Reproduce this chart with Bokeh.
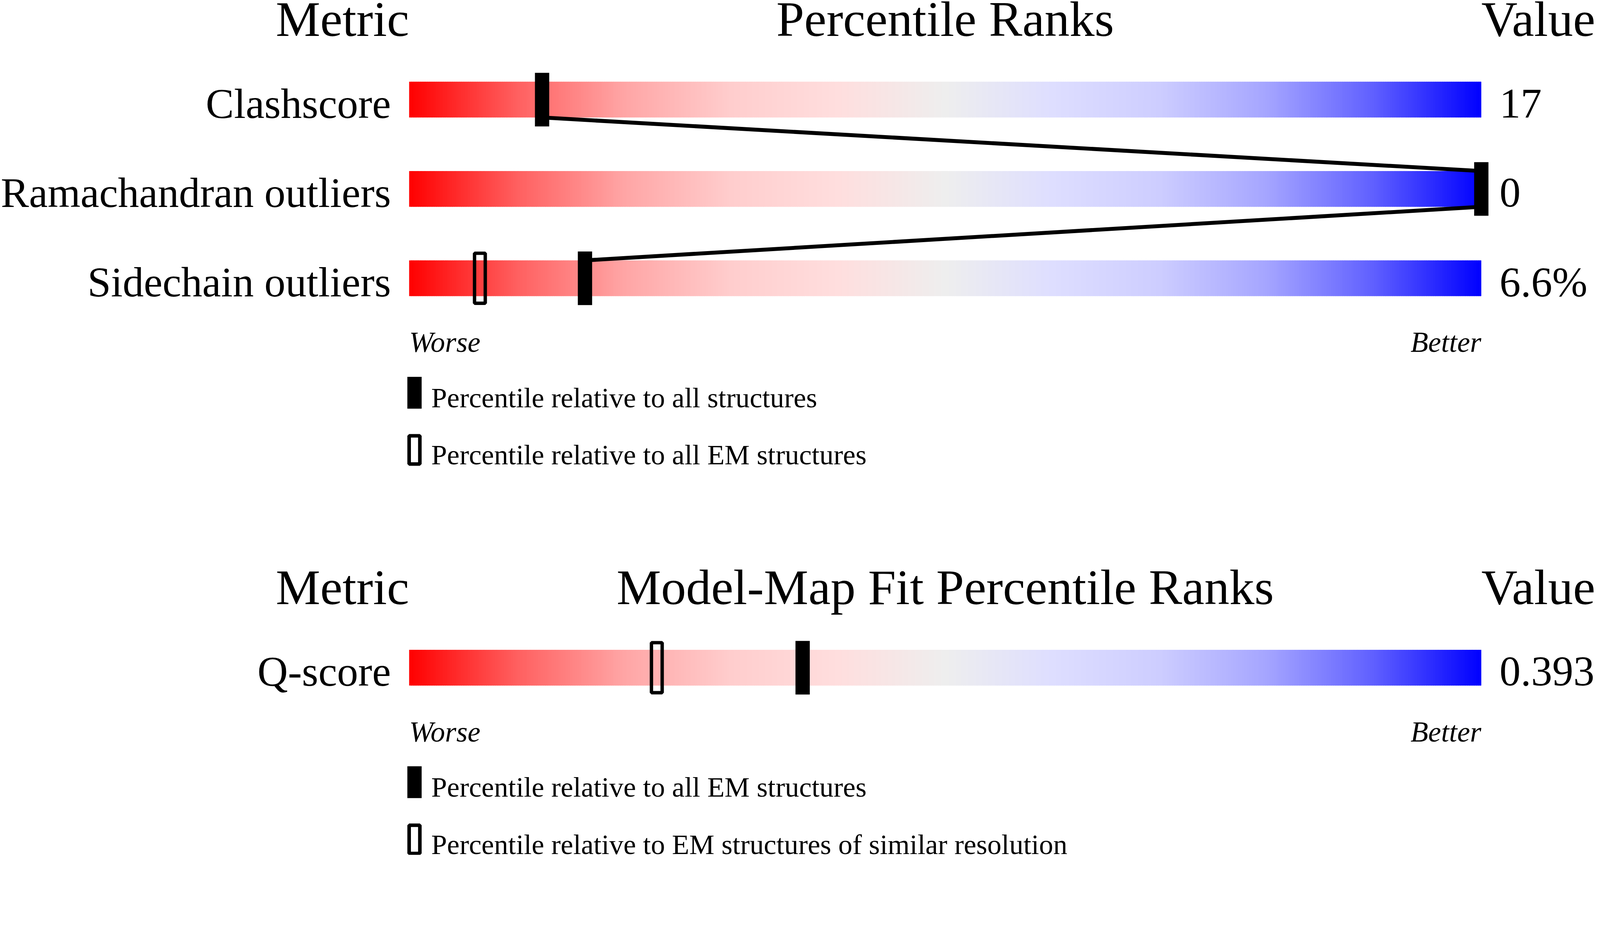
import numpy as np
from bokeh.plotting import figure
from bokeh.models import Range1d
from bokeh.embed import file_html
from bokeh.resources import INLINE
from bokeh.core.properties import value

# ---------------- data ----------------
headers_top = ["Metric", "Percentile Ranks", "Value"]
metrics_top = ["Clashscore", "Ramachandran outliers", "Sidechain outliers"]
values_top = ["17", "0", "6.6%"]
pct_all_top = [12.4, 100.0, 16.4]          # percentile relative to all structures
pct_em_top = [None, None, 6.6]             # percentile relative to all EM structures
legend_top = ["Percentile relative to all structures",
              "Percentile relative to all EM structures"]

headers_bottom = ["Metric", "Model-Map Fit Percentile Ranks", "Value"]
metrics_bottom = ["Q-score"]
values_bottom = ["0.393"]
pct_all_bottom = [36.7]                    # relative to all EM structures
pct_sim_bottom = [23.1]                    # relative to EM structures of similar resolution
legend_bottom = ["Percentile relative to all EM structures",
                 "Percentile relative to EM structures of similar resolution"]

scale_labels = ["Worse", "Better"]

grad_stops = [0, 10, 20, 30, 40, 50, 60, 70, 80, 90, 100]
grad_r = [255, 255, 255, 255, 255, 238, 222, 205, 165, 95, 0]
grad_g = [0, 95, 165, 205, 222, 238, 222, 205, 165, 95, 0]
grad_b = [0, 95, 165, 205, 222, 238, 255, 255, 255, 255, 255]

# ---------------- layout ----------------
S = 1 / 1.093           # screen px per reference px
M = 8
W = int(4485 * S) - 2 * M
H = int(2402 * S) - M
BAR_LEFT = 1153.0       # reference px
BAR_SPAN = 3000.0
xs = (M / S - BAR_LEFT) / BAR_SPAN * 100
xe = ((M + W) / S - BAR_LEFT) / BAR_SPAN * 100

FONT = value("Liberation Serif")


def px(v):
    return v * S


def fs(v):
    return "%.1fpx" % (v * S)


p = figure(width=W, height=H, x_range=Range1d(xs, xe), y_range=Range1d((M + H) / S, M / S),
           output_backend="svg", toolbar_location=None, min_border=0,
           x_axis_location=None, y_axis_location=None)
p.grid.visible = False
p.outline_line_color = None
p.background_fill_color = "white"
p.border_fill_color = "white"

N = 600
edges = np.linspace(0, 100, N + 1)
centers = (edges[:-1] + edges[1:]) / 2
step = edges[1] - edges[0]
cols = ["#%02x%02x%02x" % (int(round(r)), int(round(g)), int(round(b))) for r, g, b in zip(
    np.interp(centers, grad_stops, grad_r),
    np.interp(centers, grad_stops, grad_g),
    np.interp(centers, grad_stops, grad_b))]


def text(x, y, t, size, align, fix, xoff=0, style="normal"):
    yy = [v - fix for v in y]
    p.text(x=x, y=yy, text=t, text_align=align, text_baseline="alphabetic",
           x_offset=px(xoff), text_font=FONT, text_font_size=fs(size),
           text_font_style=style, text_color="black")


def panel(header_base, headers, metrics, values, pct_all, pct_other, legend, connect):
    bar_h = 100
    pitch = 250
    first_top = header_base + 139
    tops = [first_top + i * pitch for i in range(len(metrics))]
    bottoms = [t + bar_h for t in tops]
    mids = [t + bar_h / 2 for t in tops]

    # headers
    text([0, 50, 100], [header_base] * 3, headers, 140, ["right", "center", "left"], 36)

    # gradient bars
    L, R, T, B, C = [], [], [], [], []
    for t, b in zip(tops, bottoms):
        L += list(edges[:-1]); R += list(np.minimum(edges[:-1] + step * 1.6, 100))
        T += [t] * N; B += [b] * N; C += cols
    p.quad(left=L, right=R, top=T, bottom=B, fill_color=C, line_color=None)

    # labels and values
    text([0] * len(metrics), bottoms, metrics, 118, "right", 39, xoff=-51)
    text([100] * len(values), bottoms, values, 118, "left", 39, xoff=51)

    # connecting lines
    if connect and len(pct_all) > 1:
        p.segment(x0=pct_all[:-1], y0=bottoms[:-1], x1=pct_all[1:], y1=tops[1:],
                  line_color="black", line_width=px(11))

    # hollow markers
    ox = [v for v in pct_other if v is not None]
    oy = [m for v, m in zip(pct_other, mids) if v is not None]
    if ox:
        p.rect(x=ox, y=oy, width=px(30), height=px(140), width_units="screen",
               height_units="screen", fill_color=None, line_color="black",
               line_width=px(9.5))
    # filled markers
    p.rect(x=pct_all, y=mids, width=px(40), height=px(150), width_units="screen",
           height_units="screen", fill_color="black", line_color=None)

    # worse / better
    wb = bottoms[-1] + 151
    text([0, 100], [wb, wb], scale_labels, 81, ["left", "right"], 22, style="italic")

    # legend
    lt = bottoms[-1] + 226
    lh = 89
    lpitch = 160
    ltops = [lt, lt + lpitch]
    lmid = [t + lh / 2 for t in ltops]
    lx = 15 / BAR_SPAN * 100
    p.rect(x=[lx], y=[lmid[0]], width=px(40), height=px(lh), width_units="screen",
           height_units="screen", fill_color="black", line_color=None)
    p.rect(x=[lx], y=[lmid[1]], width=px(30), height=px(lh - 10), width_units="screen",
           height_units="screen", fill_color=None, line_color="black", line_width=px(10))
    text([0, 0], [t + lh - 5 for t in ltops], legend, 79, "left", 25, xoff=62)


panel(98, headers_top, metrics_top, values_top, pct_all_top, pct_em_top, legend_top, True)
panel(1688, headers_bottom, metrics_bottom, values_bottom, pct_all_bottom, pct_sim_bottom,
      legend_bottom, False)

open("out.html", "w").write(file_html(p, INLINE))
